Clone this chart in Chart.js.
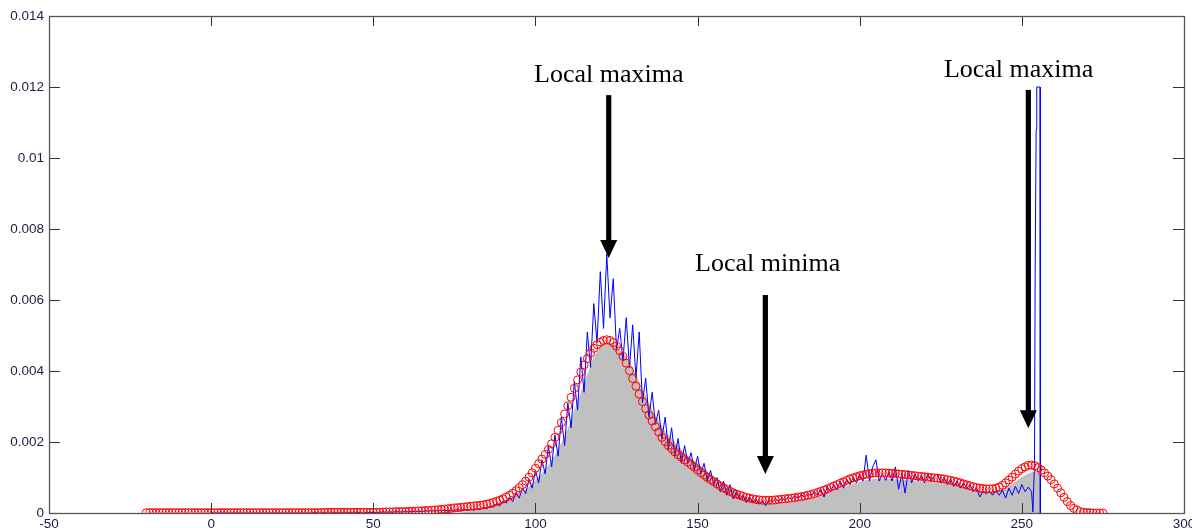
<!DOCTYPE html>
<html>
<head>
<meta charset="utf-8">
<script src="https://cdn.jsdelivr.net/npm/chart.js@4.4.1/dist/chart.umd.min.js"></script>
<style>
html,body{margin:0;padding:0;background:#fff;overflow:hidden;}
canvas{display:block;}
</style>
</head>
<body>
<canvas id="c" width="1192" height="528"></canvas>
<script>
// ---- axis ticks ----
const xTicks = [-50, 0, 50, 100, 150, 200, 250, 300];
const yTicks = [0, 0.002, 0.004, 0.006, 0.008, 0.01, 0.012, 0.014];
const yTickLabels = ['0', '0.002', '0.004', '0.006', '0.008', '0.01', '0.012', '0.014'];

// ---- red circles: smoothed density, x = -20 .. 275 step 1 ----
const redStartX = -20;
const redY = [
 0.00001,0.00001,0.00001,0.00001,0.00001,0.00001,0.00001,0.00001,0.00001,0.00001, // -20
 0.00001,0.00001,0.00001,0.00001,0.00001,0.00001,0.00001,0.00001,0.00001,0.00001, // -10
 0.00001,0.00001,0.00001,0.00001,0.00001,0.00001,0.00001,0.00001,0.00001,0.00001, // 0
 0.00001,0.00001,0.00001,0.00001,0.00001,0.00001,0.00001,0.00001,0.00001,0.00001, // 10
 0.00001,0.00001,0.00001,0.00001,0.00001,0.00001,0.00001,0.00001,0.00001,0.00001, // 20
 0.00001,0.00001,0.00001,0.00001,0.00001,0.00002,0.00002,0.00002,0.00002,0.00002, // 30
 0.00002,0.00002,0.00002,0.00002,0.00002,0.00002,0.00002,0.00002,0.00002,0.00002, // 40
 0.00002,0.00002,0.00002,0.00003,0.00003,0.00003,0.00003,0.00004,0.00004,0.00004, // 50
 0.00004,0.00005,0.00005,0.00005,0.00006,0.00006,0.00007,0.00007,0.00008,0.00008, // 60
 0.00009,0.0001,0.00011,0.00012,0.00013,0.00014,0.00015,0.00016,0.00017,0.00018, // 70
 0.00019,0.0002,0.00021,0.00022,0.00023,0.00025,0.00027,0.0003,0.00033,0.00036, // 80
 0.0004,0.00045,0.0005,0.00056,0.00063,0.00071,0.0008,0.0009,0.00101,0.00113, // 90
 0.00126,0.00139,0.00152,0.00165,0.00179,0.00195,0.00213,0.00233,0.00255,0.00279, // 100
 0.00302,0.00326,0.00351,0.00375,0.00397,0.00417,0.00435,0.00451,0.00464,0.00474, // 110
 0.00481,0.00486,0.00488,0.00486,0.0048,0.0047,0.00457,0.00441,0.00422,0.00401, // 120
 0.00379,0.00357,0.00335,0.00314,0.00294,0.00276,0.00259,0.00243,0.00228,0.00213, // 130
 0.00201,0.0019,0.00181,0.00172,0.00164,0.00157,0.0015,0.00143,0.00136,0.00129, // 140
 0.00121,0.00114,0.00107,0.001,0.00094,0.00088,0.00082,0.00076,0.00071,0.00066, // 150
 0.00061,0.00057,0.00053,0.0005,0.00047,0.00044,0.00042,0.0004,0.00038,0.00037, // 160
 0.00036,0.00036,0.00036,0.00036,0.00037,0.00038,0.00039,0.0004,0.00041,0.00042, // 170
 0.00043,0.00045,0.00046,0.00048,0.0005,0.00052,0.00055,0.00058,0.00061,0.00064, // 180
 0.00068,0.00072,0.00076,0.0008,0.00084,0.00088,0.00092,0.00096,0.00099,0.00102, // 190
 0.00105,0.00107,0.00109,0.00111,0.00112,0.00113,0.00113,0.00113,0.00113,0.00112, // 200
 0.00112,0.00111,0.0011,0.00109,0.00108,0.00107,0.00106,0.00105,0.00104,0.00103, // 210
 0.00102,0.00101,0.001,0.00099,0.00098,0.00097,0.00096,0.00094,0.00092,0.0009, // 220
 0.00088,0.00085,0.00082,0.00079,0.00077,0.00074,0.00072,0.0007,0.00069,0.00068, // 230
 0.00068,0.00068,0.0007,0.00073,0.00078,0.00085,0.00093,0.00101,0.0011,0.00118, // 240
 0.00125,0.0013,0.00134,0.00135,0.00133,0.00128,0.00121,0.00113,0.00104,0.00094, // 250
 0.00082,0.0007,0.00057,0.00044,0.00032,0.00021,0.00013,0.00008,0.00004,0.00002, // 260
 0.00001,0.00001,0,0,0,0 // 270
];

// ---- blue histogram line, x = 0 .. 253 step 1 ----
const blueStartX = 0;
const blueY = [
 0,0,0,0,0,0,0,0,0,0, // 0
 0,0,0,0,0,0,0,0,0,0, // 10
 0,0,0,0,0,0,0,0,0,0, // 20
 0,0,0.00001,0,0,0.00001,0,0,0.00001,0, // 30
 0.00001,0,0.00001,0.00001,0,0.00002,0.00001,0,0.00002,0.00001, // 40
 0.00002,0.00001,0.00002,0.00003,0.00002,0.00003,0.00002,0.00004,0.00003,0.00003, // 50
 0.00004,0.00003,0.00005,0.00004,0.00005,0.00004,0.00006,0.00005,0.00007,0.00005, // 60
 0.00007,0.00006,0.00008,0.00006,0.00009,0.00007,0.0001,0.00007,0.00011,0.00008, // 70
 0.0001,0.00008,0.00012,0.0001,0.00016,0.00012,0.0002,0.00016,0.00026,0.0002, // 80
 0.00034,0.00028,0.00045,0.00032,0.00058,0.00042,0.0007,0.00055,0.00095,0.0007, // 90
 0.0012,0.00085,0.0015,0.0011,0.0019,0.0013,0.0022,0.0016,0.0027,0.0019, // 100
 0.0031,0.0024,0.0037,0.0029,0.0044,0.0034,0.0051,0.0041,0.0059,0.0048, // 110
 0.0068,0.0052,0.0073,0.0055,0.0066,0.0046,0.0052,0.0043,0.0055,0.0041, // 120
 0.0053,0.0038,0.0051,0.0031,0.0038,0.0027,0.0034,0.0025,0.0029,0.0021, // 130
 0.0027,0.0018,0.0024,0.0016,0.0021,0.0014,0.0019,0.0014,0.0017,0.0012, // 140
 0.0016,0.0011,0.0014,0.0009,0.0012,0.0008,0.001,0.0006,0.0009,0.0005, // 150
 0.0008,0.0004,0.0006,0.0004,0.0005,0.0003,0.00045,0.0003,0.0004,0.00025, // 160
 0.00035,0.0002,0.00038,0.0003,0.0004,0.00032,0.00042,0.00035,0.00045,0.00038, // 170
 0.0005,0.0004,0.00052,0.00044,0.00056,0.00047,0.0006,0.0005,0.00068,0.00045, // 180
 0.00075,0.0006,0.0008,0.00065,0.0009,0.0007,0.00095,0.0008,0.001,0.00085, // 190
 0.0011,0.0009,0.00163,0.0009,0.0013,0.0015,0.0009,0.0011,0.00092,0.00115, // 200
 0.0009,0.0013,0.00067,0.0011,0.00056,0.0012,0.00085,0.0011,0.0009,0.00105, // 210
 0.00085,0.0011,0.0009,0.00105,0.0011,0.00085,0.001,0.0008,0.00095,0.00075, // 220
 0.0009,0.0007,0.00085,0.0007,0.0008,0.0006,0.00072,0.00045,0.0006,0.00055, // 230
 0.0006,0.0005,0.00062,0.0005,0.00064,0.00042,0.0007,0.0005,0.00075,0.00055, // 240
 0.0008,0.0006,0.00073,0.0006 // 250
];
// spike at the top of the range (fractional x positions)
const spikeX = [253.4, 253.9, 254.1, 254.4, 254.6, 255.6, 255.7, 256];
const spikeY = [0.00003, 0.0014, 0.0067, 0.0108, 0.0120, 0.0120, 0, 0];

// ---- gray filled histogram ----
const grayX = [76,78,80,82,84,86,88,90,92,94,96,98,100,102,104,106,108,110,112,114,116,118,120,122,124,126,128,130,132,134,136,138,140,142,144,146,148,150,152,154,156,158,160,162,164,166,168,170,172,174,176,178,180,182,184,186,188,190,192,194,196,198,200,202,204,206,208,210,212,214,216,218,220,222,224,226,228,230,232,234,236,238,240,242,244,246,248,250,252,254,255.6,255.7];
const grayY = [0,0.00003,0.00006,0.0001,0.00014,0.00018,0.00023,0.0003,0.00038,0.00048,0.0006,0.00075,0.00092,0.00112,0.00135,0.00163,0.00197,0.00237,0.0029,0.0034,0.0039,0.0044,0.0047,0.0048,0.00475,0.0046,0.0044,0.0041,0.0037,0.0033,0.0029,0.0026,0.0023,0.0021,0.0019,0.0017,0.00155,0.0014,0.00125,0.0011,0.00096,0.00082,0.0007,0.0006,0.0005,0.00042,0.00034,0.00026,0.00025,0.00026,0.00027,0.00029,0.00031,0.00034,0.00038,0.00043,0.00048,0.00055,0.00062,0.0007,0.00077,0.00083,0.00088,0.00093,0.00096,0.00097,0.00097,0.00096,0.00095,0.00093,0.00092,0.0009,0.00089,0.00087,0.00086,0.00084,0.00081,0.00077,0.00072,0.00067,0.00063,0.00061,0.0006,0.00062,0.00067,0.00076,0.00088,0.00101,0.00112,0.00117,0.00112,0];

// ---- annotations (data coordinates) ----
const annText   = ['Local maxima', 'Local minima', 'Local maxima'];
const annTextX  = [122.6, 171.6, 249.0];
const annTextY  = [0.01214, 0.00682, 0.01228];
const annArrowX = [122.6, 170.9, 252.0];
const annTopY   = [0.01177, 0.00614, 0.01192];
const annTipY   = [0.00718, 0.0011, 0.00239];

// build point lists
const redPts = redY.map((v, i) => ({x: redStartX + i, y: v}));
const bluePts = blueY.map((v, i) => ({x: blueStartX + i, y: v}))
  .concat(spikeX.map((x, i) => ({x: x, y: spikeY[i]})));
const grayPts = grayX.map((x, i) => ({x: x, y: grayY[i]}));

const framePlugin = {
  id: 'frame',
  afterDatasetsDraw(chart) {
    const {ctx, chartArea: a, scales} = chart;
    ctx.save();
    // annotations
    ctx.fillStyle = '#000';
    ctx.font = '26px "Liberation Serif", "Times New Roman", serif';
    ctx.textAlign = 'center';
    ctx.textBaseline = 'alphabetic';
    for (let i = 0; i < annText.length; i++) {
      const tx = scales.x.getPixelForValue(annTextX[i]);
      const ty = scales.y.getPixelForValue(annTextY[i]);
      ctx.fillText(annText[i], tx, ty);
      const ax = scales.x.getPixelForValue(annArrowX[i]);
      const top = scales.y.getPixelForValue(annTopY[i]);
      const tip = scales.y.getPixelForValue(annTipY[i]);
      const hl = 18, hw = 8.5, sw = 2.6;
      ctx.fillRect(ax - sw, top, sw * 2, tip - hl - top + 1);
      ctx.beginPath();
      ctx.moveTo(ax - hw, tip - hl);
      ctx.lineTo(ax + hw, tip - hl);
      ctx.lineTo(ax, tip);
      ctx.closePath();
      ctx.fill();
    }
    // ticks inward
    ctx.strokeStyle = '#333';
    ctx.lineWidth = 1;
    ctx.beginPath();
    xTicks.forEach(v => {
      const px = Math.round(scales.x.getPixelForValue(v)) + 0.5;
      ctx.moveTo(px, a.bottom); ctx.lineTo(px, a.bottom - 10);
      ctx.moveTo(px, a.top); ctx.lineTo(px, a.top + 10);
    });
    yTicks.forEach(v => {
      const py = Math.round(scales.y.getPixelForValue(v)) + 0.5;
      ctx.moveTo(a.left, py); ctx.lineTo(a.left + 11, py);
      ctx.moveTo(a.right, py); ctx.lineTo(a.right - 11, py);
    });
    ctx.stroke();
    // frame
    ctx.strokeStyle = '#555';
    ctx.lineWidth = 1.3;
    ctx.strokeRect(Math.round(a.left) + 0.5, Math.round(a.top) + 0.5,
                   Math.round(a.right - a.left), Math.round(a.bottom - a.top));
    ctx.restore();
  }
};

const tickFont = {family: '"Liberation Sans", Arial, sans-serif', size: 13.5};

new Chart(document.getElementById('c'), {
  type: 'scatter',
  data: {
    datasets: [
      {
        label: 'smoothed',
        data: redPts,
        showLine: false,
        pointStyle: 'circle',
        pointRadius: 4,
        pointBorderWidth: 1,
        pointBorderColor: '#ff0000',
        pointBackgroundColor: 'rgba(0,0,0,0)',
        order: 0
      },
      {
        label: 'histogram',
        data: bluePts,
        showLine: true,
        borderColor: '#0000ff',
        borderWidth: 1,
        pointRadius: 0,
        tension: 0,
        fill: false,
        order: 1
      },
      {
        label: 'area',
        data: grayPts,
        showLine: true,
        borderWidth: 0,
        borderColor: 'rgba(0,0,0,0)',
        backgroundColor: '#c0c0c0',
        pointRadius: 0,
        tension: 0,
        fill: 'origin',
        order: 2
      }
    ]
  },
  options: {
    responsive: false,
    animation: false,
    devicePixelRatio: 1,
    layout: {padding: {top: 16, right: 8, left: 0, bottom: 0}},
    plugins: {legend: {display: false}, tooltip: {enabled: false}},
    scales: {
      x: {
        type: 'linear', min: -50, max: 300,
        afterBuildTicks: s => { s.ticks = xTicks.map(v => ({value: v})); },
        afterFit: s => { s.height = 15; s.paddingLeft = 0; s.paddingRight = 0; },
        grid: {display: false, drawTicks: false},
        border: {display: false},
        ticks: {font: tickFont, color: '#1c1c44', padding: 3, maxRotation: 0,
                callback: v => String(v)}
      },
      y: {
        type: 'linear', min: 0, max: 0.014,
        afterBuildTicks: s => { s.ticks = yTicks.map(v => ({value: v})); },
        afterFit: s => { s.width = 49; s.paddingTop = 0; s.paddingBottom = 0; },
        grid: {display: false, drawTicks: false},
        border: {display: false},
        ticks: {font: tickFont, color: '#1c1c44', padding: 5,
                callback: (v, i) => yTickLabels[i]}
      }
    }
  },
  plugins: [framePlugin]
});
</script>
</body>
</html>
